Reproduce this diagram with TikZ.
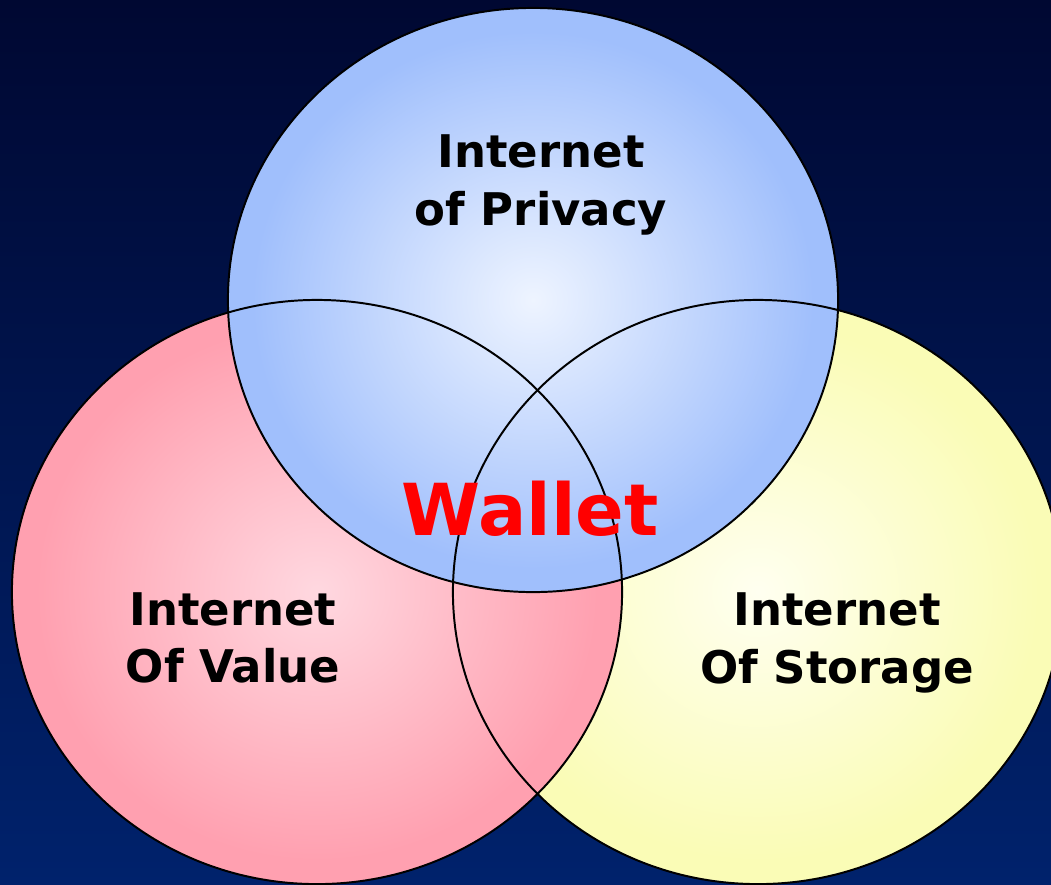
\documentclass[tikz,border=0pt]{standalone}
\usepackage{fontspec}
\setmainfont{DejaVu Sans}
\usepackage{tikz}
\usetikzlibrary{shapes,positioning}
\definecolor{wlnavytop}{RGB}{0,8,50}
\definecolor{wlnavybot}{RGB}{0,34,108}
\definecolor{wlbluein}{RGB}{238,244,255}
\definecolor{wlblueout}{RGB}{160,191,252}
\definecolor{wlpinkin}{RGB}{255,216,224}
\definecolor{wlpinkout}{RGB}{255,160,176}
\definecolor{wlyellowin}{RGB}{255,255,240}
\definecolor{wlyellowout}{RGB}{250,252,182}
\definecolor{wlred}{RGB}{255,0,0}
\pgfdeclareradialshading{privacyshade}{\pgfpoint{0bp}{0bp}}{color(0bp)=(wlbluein); color(23bp)=(wlblueout); color(50bp)=(wlblueout)}
\pgfdeclareradialshading{valueshade}{\pgfpoint{0bp}{0bp}}{color(0bp)=(wlpinkin); color(23bp)=(wlpinkout); color(50bp)=(wlpinkout)}
\pgfdeclareradialshading{storageshade}{\pgfpoint{0bp}{0bp}}{color(0bp)=(wlyellowin); color(23bp)=(wlyellowout); color(50bp)=(wlyellowout)}
\tikzstyle{sphere} = [ellipse, minimum width=15.25cm, minimum height=14.6cm, inner sep=0pt]
\tikzstyle{outline} = [draw=black, line width=1.4pt]
\tikzstyle{area} = [font=\fontsize{32}{41}\selectfont\bfseries, text=black, align=center]

\begin{document}
\begin{tikzpicture}[x=0.025cm, y=-0.025cm]
\useasboundingbox (0,0) rectangle (1051,884);
\clip (0,0) rectangle (1051,884);
\fill[top color=wlnavytop, bottom color=wlnavybot] (0,0) rectangle (1051,884);

% three spheres, yellow under pink under blue
\node (storage) [sphere, shading=storageshade] at (758,592) {};
\node (value) [sphere, shading=valueshade] at (317,592) {};
\node (privacy) [sphere, shading=privacyshade] at (533,300) {};
\foreach \s in {storage,value,privacy}
  \draw[outline] (\s.center) ellipse [x radius=7.625cm, y radius=7.3cm];

% labels
\node (privacytxt) [area] at (541,185) {Internet\\of Privacy};
\node (valuetxt) [area] at (233,638) {Internet\\Of Value};
\node (storagetxt) [area] at (837,643) {Internet\\Of Storage};
\node (wallet) [font=\fontsize{51}{51}\selectfont\bfseries, text=wlred, anchor=base] at (530,535) {Wallet};
\end{tikzpicture}
\end{document}
